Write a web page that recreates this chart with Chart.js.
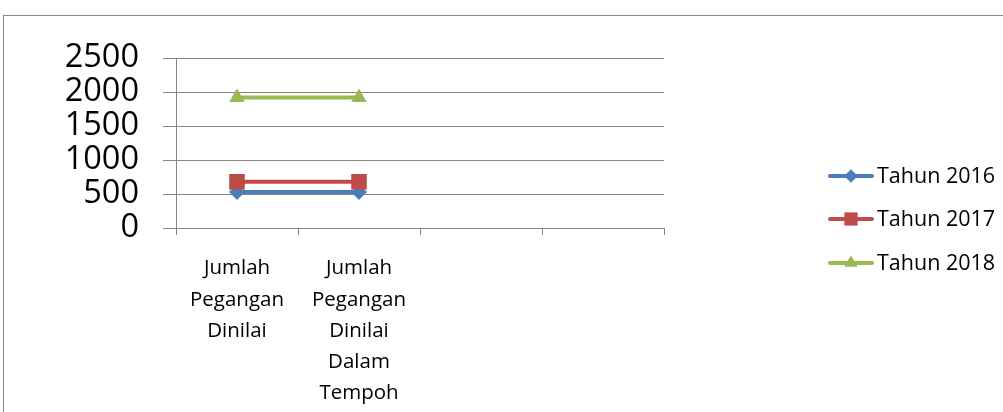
<!DOCTYPE html>
<html>
<head>
<meta charset="utf-8">
<script src="https://cdn.jsdelivr.net/npm/chart.js@4.4.1/dist/chart.umd.min.js"></script>
<style>
  html, body { margin: 0; padding: 0; background: #fff; }
  #wrap { position: relative; width: 1003px; height: 412px; overflow: hidden; }
  #frame { position: absolute; left: 3px; top: 15px; width: 1100px; height: 500px; border: 1px solid #888; }
  #chart { position: absolute; left: 0; top: 0; }
</style>
</head>
<body>
<div id="wrap">
  <div id="frame"></div>
  <canvas id="chart" width="1003" height="412"></canvas>
</div>
<script>
// categories (two empty slots on the right, as in the original)
const categories = [
    ["Jumlah", "Pegangan", "Dinilai"],
    ["Jumlah", "Pegangan", "Dinilai", "Dalam", "Tempoh"],
    "",
    ""
];

const tahun2016 = [530, 530, null, null];
const tahun2017 = [680, 680, null, null];
const tahun2018 = [1920, 1920, null, null];

const yTicks = [0, 500, 1000, 1500, 2000, 2500];

const seriesNames = ["Tahun 2016", "Tahun 2017", "Tahun 2018"];
const seriesColors = ["#4a7ebb", "#be4b48", "#98b954"];
const seriesMarkers = ["rectRot", "rect", "triangle"];
const markerSizes = [8, 11, 9];

const gridColor = "#868686";

//Legend drawn on the right, line + marker like the original
const sideLegend = {
    id: "sideLegend",
    afterDraw(chart) {
        const ctx = chart.ctx;
        const x0 = 830, x1 = 872;
        const rows = [176, 219, 263];
        ctx.save();
        seriesNames.forEach((name, i) => {
            const y = rows[i];
            ctx.strokeStyle = seriesColors[i];
            ctx.lineWidth = 4;
            ctx.lineCap = "round";
            ctx.beginPath();
            ctx.moveTo(x0, y);
            ctx.lineTo(x1, y);
            ctx.stroke();
            drawMarker(ctx, seriesMarkers[i], (x0 + x1) / 2, y, markerSizes[i] * 0.85, seriesColors[i]);
            ctx.fillStyle = "#000";
            ctx.font = "21.5px 'Open Sans'";
            ctx.textBaseline = "middle";
            ctx.textAlign = "left";
            ctx.fillText(name, x1 + 5, y + 1);
        });
        ctx.restore();
    }
};

function drawMarker(ctx, style, x, y, r, color) {
    ctx.fillStyle = color;
    ctx.beginPath();
    if (style === "rect") {
        const s = r * Math.SQRT1_2;
        ctx.rect(x - s, y - s, 2 * s, 2 * s);
    } else if (style === "rectRot") {
        ctx.moveTo(x - r, y);
        ctx.lineTo(x, y - r);
        ctx.lineTo(x + r, y);
        ctx.lineTo(x, y + r);
        ctx.closePath();
    } else {
        ctx.moveTo(x, y - r);
        ctx.lineTo(x + r * 0.866, y + r / 2);
        ctx.lineTo(x - r * 0.866, y + r / 2);
        ctx.closePath();
    }
    ctx.fill();
}

const datasets = [tahun2016, tahun2017, tahun2018].map((values, i) => ({
    label: seriesNames[i],
    data: values,
    borderColor: seriesColors[i],
    backgroundColor: seriesColors[i],
    borderWidth: 4,
    pointStyle: seriesMarkers[i],
    pointRadius: markerSizes[i],
    pointHoverRadius: markerSizes[i],
    pointBorderWidth: 0,
    order: 3 - i
}));

new Chart(document.querySelector("#chart").getContext("2d"), {
    type: "line",
    data: { labels: categories, datasets: datasets },
    options: {
        responsive: false,
        animation: false,
        devicePixelRatio: 1,
        layout: { padding: { top: 58, right: 339, left: 0, bottom: 0 } },
        plugins: { legend: { display: false }, tooltip: { enabled: false } },
        scales: {
            x: {
                offset: true,
                grid: { offset: true, drawOnChartArea: false, color: gridColor, tickLength: 7 },
                border: { color: gridColor },
                ticks: {
                    autoSkip: false,
                    maxRotation: 0,
                    padding: 18,
                    color: "#000",
                    font: { family: "'Open Sans'", size: 20.5, lineHeight: 1.52 }
                },
                afterFit(scale) { scale.height = 184; }
            },
            y: {
                min: 0,
                max: 2500,
                afterBuildTicks(scale) { scale.ticks = yTicks.map(v => ({ value: v })); },
                grid: { color: gridColor, tickLength: 13 },
                border: { color: gridColor },
                ticks: {
                    autoSkip: false,
                    padding: 24,
                    color: "#000",
                    font: { family: "'Open Sans'", size: 32.5, lineHeight: 1 },
                    callback: v => String(v)
                },
                afterFit(scale) { scale.width = 176; }
            }
        }
    },
    plugins: [sideLegend]
});
</script>
</body>
</html>
